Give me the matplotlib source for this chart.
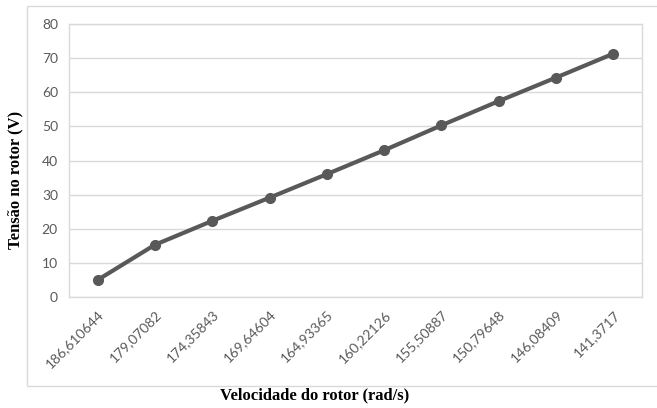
import matplotlib
matplotlib.use("Agg")
import matplotlib.pyplot as plt
from matplotlib.patches import Rectangle

categories = ["186,610644", "179,07082", "174,35843", "169,64604", "164,93365",
              "160,22126", "155,50887", "150,79648", "146,08409", "141,3717"]
tensao = [5.0, 15.3, 22.3, 29.1, 36.0, 43.0, 50.3, 57.4, 64.3, 71.3]
yticks = [0, 10, 20, 30, 40, 50, 60, 70, 80]

W, H = 657, 408
fig = plt.figure(figsize=(W / 100, H / 100), dpi=100)
ax = fig.add_axes([69 / W, 1 - 297 / H, (642 - 69) / W, (297 - 24) / H])

x = list(range(len(categories)))
ax.plot(x, tensao, color="#595959", lw=3, marker="o", ms=7, solid_capstyle="round", zorder=3)

ax.set_xlim(-0.5, len(categories) - 0.5)
ax.set_ylim(0, 80)
ax.set_yticks(yticks)
ax.set_yticklabels([str(v) for v in yticks])
ax.set_xticks(x)
ax.set_xticklabels(categories, rotation=45, ha="right", rotation_mode="anchor")
ax.grid(axis="y", color="#d9d9d9", lw=1)
ax.set_axisbelow(True)
for s in ax.spines.values():
    s.set_color("#d9d9d9")
    s.set_linewidth(1)
ax.tick_params(length=0, labelsize=10, labelcolor="#595959", pad=8, axis="y")
ax.tick_params(axis="x", length=0, labelsize=10, labelcolor="#595959", pad=8)
for t in ax.get_xticklabels() + ax.get_yticklabels():
    t.set_fontfamily("Lato")

fig.patches.append(Rectangle((27 / W, 1 - 386 / H), 1.0, (386 - 6) / H,
                             transform=fig.transFigure, fill=False,
                             edgecolor="#d9d9d9", lw=1))

fig.text(15 / W, 1 - 180 / H, "Tensão no rotor (V)", rotation=90, ha="center", va="center",
         fontfamily="Liberation Serif", fontweight="bold", fontsize=12)
fig.text(315 / W, 1 - 395 / H, "Velocidade do rotor (rad/s)", ha="center", va="center",
         fontfamily="Liberation Serif", fontweight="bold", fontsize=12)

fig.savefig("out.png", dpi=100)
